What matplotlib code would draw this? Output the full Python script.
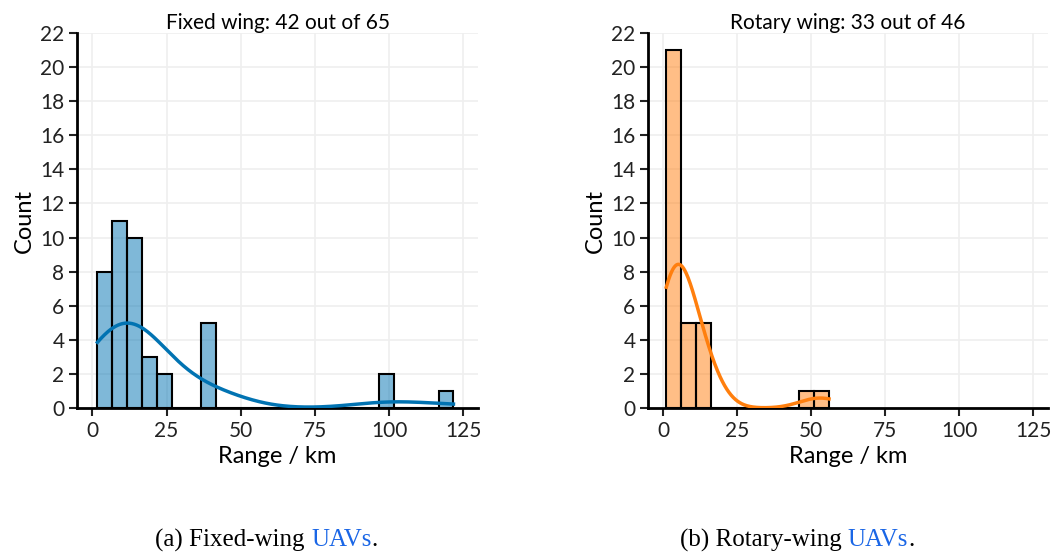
import numpy as np
import matplotlib
matplotlib.use("Agg")
import matplotlib.pyplot as plt

# --- DATA (ranges in km) ---
fixed_ranges = [1.7, 3, 4, 5, 5, 5, 6, 6,
                7, 8, 8, 10, 10, 10, 10, 10, 10, 11, 11,
                12, 12, 15, 15, 15, 15, 15, 15, 16, 16,
                18, 20, 20,
                25, 25,
                40, 40, 40, 40, 40,
                100, 100,
                121.7]
rotary_ranges = [1, 1, 1.5, 2, 2, 2, 3, 3, 3, 3, 4, 4, 4, 4.5, 5, 5, 5, 5, 5, 5.5, 5.5,
                 7, 8, 9, 10, 10.5,
                 12, 13, 15, 15, 15.5,
                 50,
                 56]
fixed_bins = 24
rotary_bins = 11
fixed_title = "Fixed wing: 42 out of 65"
rotary_title = "Rotary wing: 33 out of 46"
captions = ["(a) Fixed-wing ", "(b) Rotary-wing "]

BLUE = "#0173b2"
ORANGE = "#ff7f0e"

plt.rcParams['font.family'] = ['Lato', 'DejaVu Sans']


def kde_curve(data, edges):
    # gaussian kde, scott bandwidth, scaled to counts like seaborn histplot
    d = np.asarray(data, float)
    n = len(d)
    bw = d.std(ddof=1) * n ** (-1 / 5)
    xs = np.linspace(d.min(), d.max(), 300)
    dens = np.exp(-0.5 * ((xs[:, None] - d[None, :]) / bw) ** 2).sum(1)
    dens /= n * bw * np.sqrt(2 * np.pi)
    binw = edges[1] - edges[0]
    return xs, dens * n * binw


def draw(ax, data, nbins, color, title):
    d = np.asarray(data, float)
    edges = np.linspace(d.min(), d.max(), nbins + 1)
    ax.hist(d, bins=edges, color=color, alpha=0.5, edgecolor="none", zorder=2)
    ax.hist(d, bins=edges, histtype="bar", facecolor="none", edgecolor="black",
            linewidth=1.5, zorder=3)
    xs, ys = kde_curve(d, edges)
    ax.plot(xs, ys, color=color, linewidth=2.5, zorder=4)

    ax.set_xlim(-5.2, 130)
    ax.set_ylim(0, 22)
    ax.set_xticks([0, 25, 50, 75, 100, 125])
    ax.set_yticks(np.arange(0, 23, 2))
    ax.grid(True, color="#efefef", linewidth=1.2, zorder=0)
    ax.set_axisbelow(True)
    for s in ["top", "right"]:
        ax.spines[s].set_visible(False)
    for s in ["left", "bottom"]:
        ax.spines[s].set_linewidth(2)
    ax.tick_params(direction="out", length=6, width=1.5, labelsize=15,
                   colors="#222222", pad=3)
    ax.set_xlabel("Range / km", fontsize=17, labelpad=4)
    ax.set_ylabel("Count", fontsize=17, labelpad=4)
    ax.set_title(title, fontsize=15, pad=3)


fig = plt.figure(figsize=(10.57, 5.53), dpi=100)
ax1 = fig.add_axes([0.0728, 0.2622, 0.3795, 0.678])
ax2 = fig.add_axes([0.613, 0.2622, 0.3785, 0.678])
draw(ax1, fixed_ranges, fixed_bins, BLUE, fixed_title)
draw(ax2, rotary_ranges, rotary_bins, ORANGE, rotary_title)

# captions below the panels, pieces chained one after another
for x0, cap in zip([0.147, 0.643], captions):
    t1 = fig.text(x0, 0.012, cap, fontsize=18, family="Liberation Serif",
                  ha="left", va="baseline")
    fig.canvas.draw()
    bb = t1.get_window_extent()
    t2 = fig.text(bb.x1 / fig.bbox.width, 0.012, "UAVs", fontsize=18,
                  family="Liberation Serif", color="#1a66e6",
                  ha="left", va="baseline")
    fig.canvas.draw()
    bb2 = t2.get_window_extent()
    fig.text(bb2.x1 / fig.bbox.width, 0.012, ".", fontsize=18,
             family="Liberation Serif", ha="left", va="baseline")

fig.savefig("out.png", dpi=100)
